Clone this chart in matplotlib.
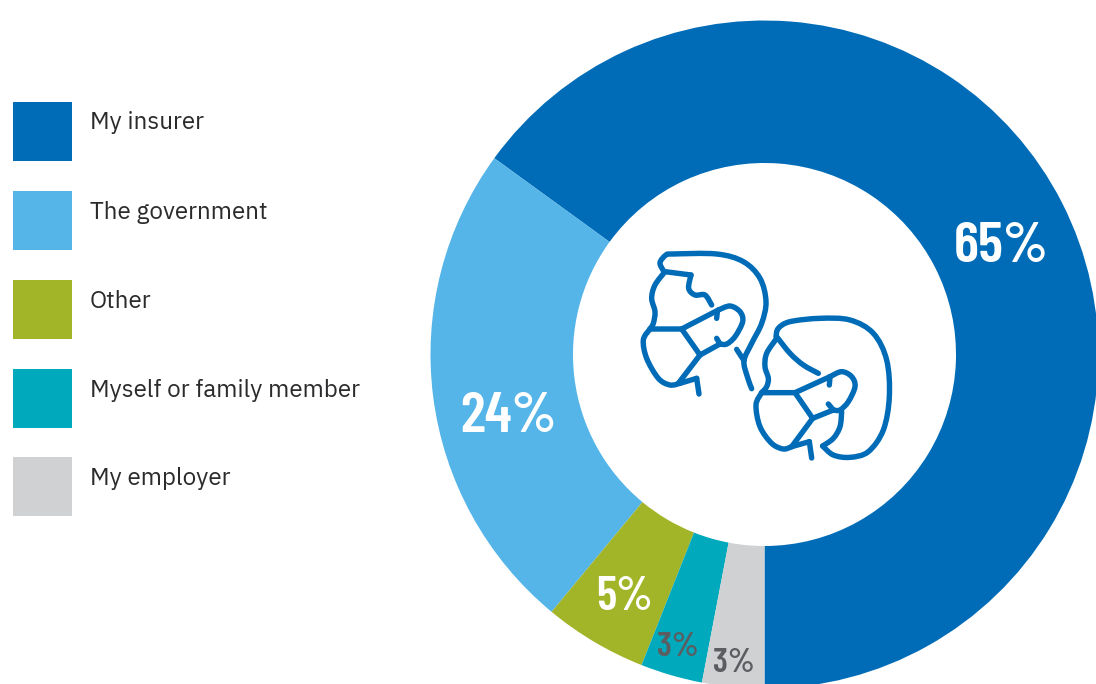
import numpy as np
import matplotlib
matplotlib.use("Agg")
import matplotlib.pyplot as plt
from matplotlib.patches import PathPatch, Rectangle
from matplotlib.path import Path

categories = ["My insurer", "The government", "Other", "Myself or family member", "My employer"]
shares = [65, 24, 5, 3, 3]
share_labels = ["65%", "24%", "5%", "3%", "3%"]

colors = ["#006CB7", "#55B4E8", "#A2B528", "#00A9BC", "#D0D1D3"]
label_colors = ["white", "white", "white", "#5B5D60", "#5B5D60"]
label_sizes = [42, 42, 34, 25, 25]
label_pos = [(1001, 247), (508, 417), (625, 597), (678, 648), (734, 663)]

W, H = 1096, 684
ICON = "#006BB6"
PCT_FONT = ["Barlow Condensed", "Liberation Sans"]
TXT_FONT = ["IBM Plex Sans", "Noto Sans"]


def smooth(points):
    """Catmull-Rom -> bezier, icon points are in zoomed px (3x, from 620,230)."""
    pts = np.array(points, dtype=float) / 3 + [620, 230]
    pts[:, 1] = H - pts[:, 1]
    verts = [pts[0]]
    codes = [Path.MOVETO]
    for i in range(len(pts) - 1):
        p0 = pts[max(i - 1, 0)]
        p1 = pts[i]
        p2 = pts[i + 1]
        p3 = pts[min(i + 2, len(pts) - 1)]
        verts += [p1 + (p2 - p0) / 6, p2 - (p3 - p1) / 6, p2]
        codes += [Path.CURVE4] * 3
    return Path(verts, codes)


# strokes of the two masked faces
strokes = [
    # left head
    [(130, 122), (120, 98), (138, 75), (160, 72), (290, 72), (370, 95), (420, 145), (438, 215),
     (425, 280), (395, 340), (372, 392), (382, 440), (395, 476)],
    [(135, 125), (213, 135)],
    [(213, 135), (206, 175), (225, 195), (255, 195), (275, 225)],
    [(135, 125), (105, 165), (95, 205), (105, 245), (100, 280), (90, 297)],
    [(90, 297), (70, 330), (80, 385), (115, 445), (150, 465), (180, 460)],
    [(295, 240), (330, 228), (360, 245), (368, 275), (345, 320), (320, 342), (300, 342)],
    [(350, 358), (372, 392)],
    [(90, 297), (185, 297)],
    [(185, 297), (240, 375)],
    [(240, 375), (175, 460)],
    [(185, 297), (295, 240)],
    [(240, 375), (300, 342)],
    [(180, 460), (230, 445)],
    [(230, 445), (237, 492)],
    [(290, 265), (292, 245)],
    [(290, 325), (300, 342)],
    # right head
    [(468, 320), (475, 295), (510, 275), (600, 265), (690, 270), (760, 310), (800, 390), (808, 500),
     (790, 600), (745, 665), (690, 682), (640, 675), (608, 648)],
    [(608, 648), (640, 625), (660, 590), (665, 545)],
    [(470, 320), (510, 370), (550, 405), (595, 430)],
    [(470, 325), (440, 370), (435, 410), (445, 445), (440, 470), (425, 488)],
    [(425, 488), (408, 525), (420, 590), (455, 640), (490, 657), (515, 650)],
    [(630, 440), (665, 425), (695, 440), (705, 470), (685, 515), (660, 540), (640, 540)],
    [(425, 488), (525, 488)],
    [(525, 488), (578, 565)],
    [(578, 565), (515, 650)],
    [(525, 488), (630, 440)],
    [(578, 565), (640, 540)],
    [(515, 650), (568, 635)],
    [(568, 635), (575, 684)],
    [(628, 465), (630, 440)],
    [(625, 522), (640, 540)],
]

fig = plt.figure(figsize=(W / 100, H / 100), dpi=100, facecolor="white")
ax = fig.add_axes([0, 0, 1, 1])

ax.pie(
    shares,
    colors=colors,
    startangle=-90,
    counterclock=True,
    center=(764.5, H - 354.5),
    radius=334,
    wedgeprops={"width": 142.5, "linewidth": 0},
    frame=True,
)
ax.set_xlim(0, W)
ax.set_ylim(0, H)
ax.set_aspect("equal")
ax.axis("off")

for txt, col, size, (x, y) in zip(share_labels, label_colors, label_sizes, label_pos):
    ax.text(x, H - y, txt, color=col, fontsize=size, fontweight=600, ha="center", va="center",
            family=PCT_FONT)

# legend
box_top = [102, 191, 280, 369, 457]
for cat, col, top in zip(categories, colors, box_top):
    ax.add_patch(Rectangle((13, H - top - 59), 59, 59, facecolor=col, edgecolor="none"))
    ax.text(89.5, H - top - 21, cat, color="#2B2A2C", fontsize=17.5, ha="left", va="center",
            family=TXT_FONT)

# icon
for s in strokes:
    ax.add_patch(PathPatch(smooth(s), fill=False, edgecolor=ICON, linewidth=3.9,
                           capstyle="round", joinstyle="round"))

fig.savefig("out.png", dpi=100)
